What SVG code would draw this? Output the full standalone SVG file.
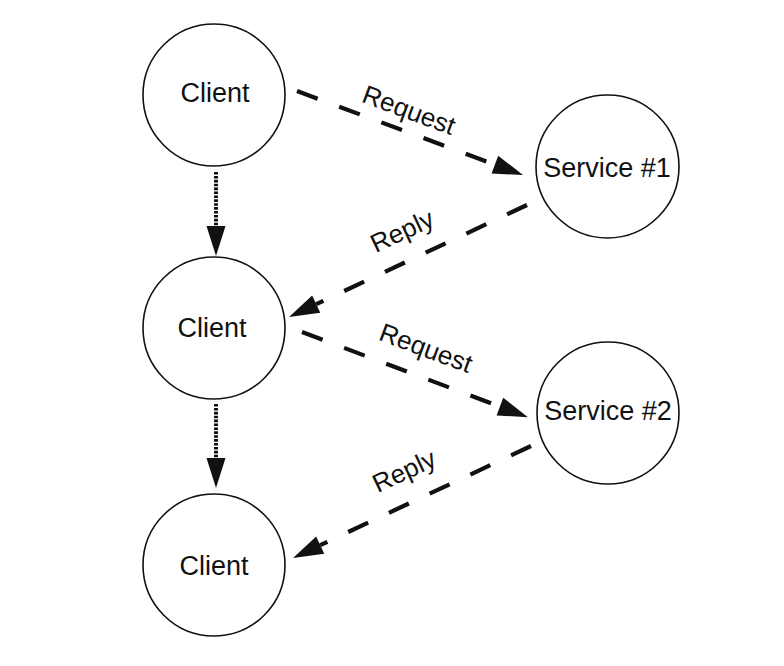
<svg xmlns="http://www.w3.org/2000/svg" width="784" height="666" viewBox="0 0 784 666">
  <defs>
    <style>
      .node circle { fill: #ffffff; stroke: #111111; stroke-width: 1.6; }
      .node text { font-family: "Liberation Sans", Arial, Helvetica, sans-serif; font-size: 27px; fill: #111111; text-anchor: middle; }
      .dash { fill: none; stroke: #111111; stroke-width: 4.2; stroke-dasharray: 22 23; }
      .dot { fill: none; stroke: #111111; stroke-width: 4; stroke-dasharray: 2.6 1.3; }
      .label { font-family: "Liberation Sans", Arial, Helvetica, sans-serif; font-size: 26px; fill: #111111; text-anchor: middle; }
    </style>
    <marker id="arrow" markerUnits="userSpaceOnUse" markerWidth="32" markerHeight="20" refX="0" refY="9.5" orient="auto" overflow="visible">
      <path d="M0,0 L30,9.5 L0,19 Z" fill="#111111"/>
    </marker>
  </defs>
  <rect x="0" y="0" width="784" height="666" fill="#ffffff"/>

  <g id="connectors">
    <path class="dot" d="M216,172 L216,226" marker-end="url(#arrow)"/>
    <path class="dot" d="M216,404 L216,458" marker-end="url(#arrow)"/>
    <path class="dash" d="M297,91 L494.9,164.6" marker-end="url(#arrow)"/>
    <path class="dash" d="M527,205 L316.2,304.2" marker-end="url(#arrow)"/>
    <path class="dash" d="M302,332 L499.9,406.6" marker-end="url(#arrow)"/>
    <path class="dash" d="M531,446 L320.2,545.2" marker-end="url(#arrow)"/>
    <text class="label" transform="translate(409,110) rotate(20.4)" x="0" y="9">Request</text>
    <text class="label" transform="translate(402,231) rotate(-25.2)" x="0" y="9">Reply</text>
    <text class="label" transform="translate(426,348) rotate(20.4)" x="0" y="9">Request</text>
    <text class="label" transform="translate(404,471) rotate(-25.2)" x="0" y="9">Reply</text>
  </g>

  <g id="client1" class="node">
    <circle cx="214" cy="95" r="71"/>
    <text x="215" y="102">Client</text>
  </g>
  <g id="service1" class="node">
    <circle cx="607.5" cy="166.5" r="71.5"/>
    <text x="607" y="177">Service #1</text>
  </g>
  <g id="client2" class="node">
    <circle cx="214" cy="328" r="71"/>
    <text x="212" y="337">Client</text>
  </g>
  <g id="service2" class="node">
    <circle cx="608" cy="413" r="71"/>
    <text x="608" y="420">Service #2</text>
  </g>
  <g id="client3" class="node">
    <circle cx="214" cy="565" r="71"/>
    <text x="214" y="575">Client</text>
  </g>
</svg>
